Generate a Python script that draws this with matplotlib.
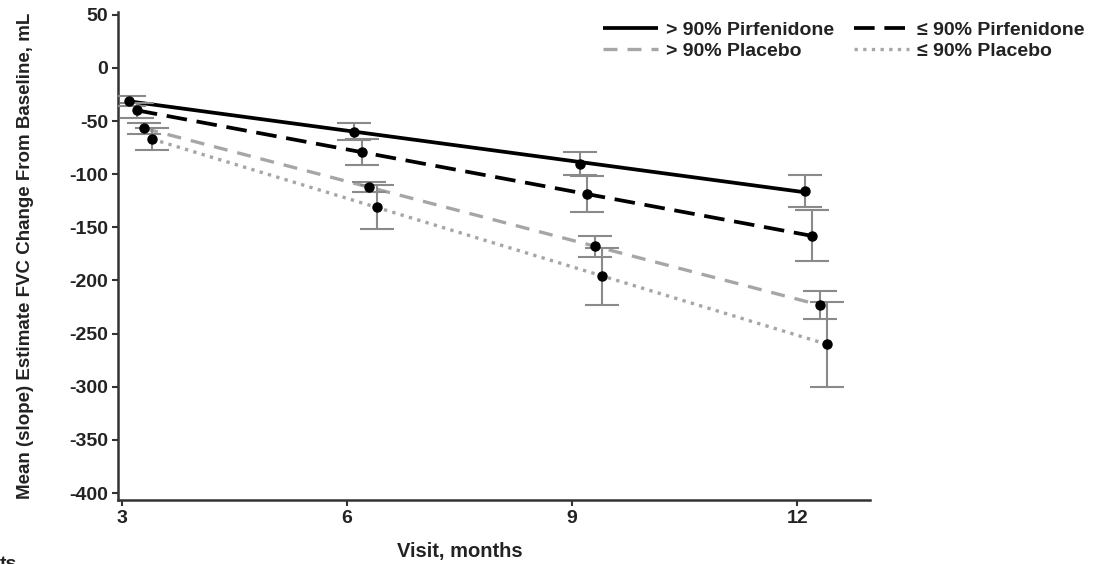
import numpy as np
import matplotlib
matplotlib.use("Agg")
import matplotlib.pyplot as plt
from matplotlib.lines import Line2D

plt.rcParams['font.family'] = ['Liberation Sans', 'DejaVu Sans']
plt.rcParams['font.weight'] = 'bold'
plt.rcParams['axes.unicode_minus'] = False

# Visits (months) and per-group mean change from baseline (mL) with error half-widths
visits = np.array([3, 6, 9, 12])
groups = ["> 90% Pirfenidone", "≤ 90% Pirfenidone", "> 90% Placebo", "≤ 90% Placebo"]
pirf_gt90 = [-31, -60, -90, -116]
pirf_le90 = [-40, -79, -119, -158]
plac_gt90 = [-57, -112, -168, -223]
plac_le90 = [-67, -131, -196, -260]
pirf_gt90_err = [5, 8, 11, 15]
pirf_le90_err = [7, 12, 17, 24]
plac_gt90_err = [5, 5, 10, 13]
plac_le90_err = [10, 21, 27, 40]
yticks = np.arange(-400, 51, 50)

means = [pirf_gt90, pirf_le90, plac_gt90, plac_le90]
errs = [pirf_gt90_err, pirf_le90_err, plac_gt90_err, plac_le90_err]

# small horizontal dodge so the groups don't overlap
dodge = [0.1, 0.2, 0.3, 0.4]
styles = [
    dict(color='black', lw=2.7, ls='-'),
    dict(color='black', lw=2.7, ls=(0, (5.5, 2.6))),
    dict(color='#a6a6a6', lw=2.4, ls=(0, (4.2, 3.0))),
    dict(color='#a6a6a6', lw=2.4, ls=(0, (1.0, 1.6))),
]
err_color = '#8a8a8a'
txt_color = '#222222'

fig = plt.figure(figsize=(10.93, 5.64), dpi=100)
ax = fig.add_axes([0.108, 0.1135, 0.688, 0.866])

for m, e, d, st in zip(means, errs, dodge, styles):
    x = visits + d
    m = np.asarray(m, float)
    # linear slope estimate through the visit means
    k, b = np.polyfit(x, m, 1)
    ax.plot(x, k * x + b, solid_capstyle='butt', dash_capstyle='butt', zorder=2, **st)
    ax.errorbar(x, m, yerr=e, fmt='none', ecolor=err_color, elinewidth=1.5,
                capsize=12, capthick=1.5, zorder=3)
    ax.plot(x, m, 'o', color='black', ms=6.5, zorder=4)

ax.set_xlim(2.95, 12.97)
ax.set_ylim(-406.5, 53)
ax.set_xticks(visits)
ax.set_xticklabels([str(v) for v in visits], fontsize=14, fontweight='bold', color=txt_color)
ax.set_yticks(yticks)
ax.set_yticklabels([str(v) for v in yticks], fontsize=14, fontweight='bold', color=txt_color)
for side in ('top', 'right'):
    ax.spines[side].set_visible(False)
for side in ('left', 'bottom'):
    ax.spines[side].set_color('#333333')
    ax.spines[side].set_linewidth(1.8)
ax.tick_params(axis='both', direction='out', length=4, width=1.5, color='#333333', pad=3)

ax.set_xlabel("Visit, months", fontsize=14.5, fontweight='bold', color=txt_color)
ax.xaxis.set_label_coords(0.455, -0.085)
ax.set_ylabel("Mean (slope) Estimate FVC Change From Baseline, mL", fontsize=13.5,
              fontweight='bold', color=txt_color)
ax.yaxis.set_label_coords(-0.112, 0.5)

handles = [Line2D([], [], solid_capstyle='butt', dash_capstyle='butt', **st) for st in styles]
order = [0, 2, 1, 3]
fig.legend([handles[i] for i in order], [groups[i] for i in order], ncol=2,
           loc='upper right', bbox_to_anchor=(1.008, 0.993), frameon=False,
           prop=dict(size=14, weight='bold'), handlelength=2.85, handletextpad=0.4,
           columnspacing=1.0, labelspacing=0.15, labelcolor=txt_color)

# clipped fragment of a caption at the bottom edge
fig.text(0.0, -0.008, "ts", fontsize=14, fontweight='bold', color=txt_color, va='baseline')

fig.savefig("out.png", dpi=100)
